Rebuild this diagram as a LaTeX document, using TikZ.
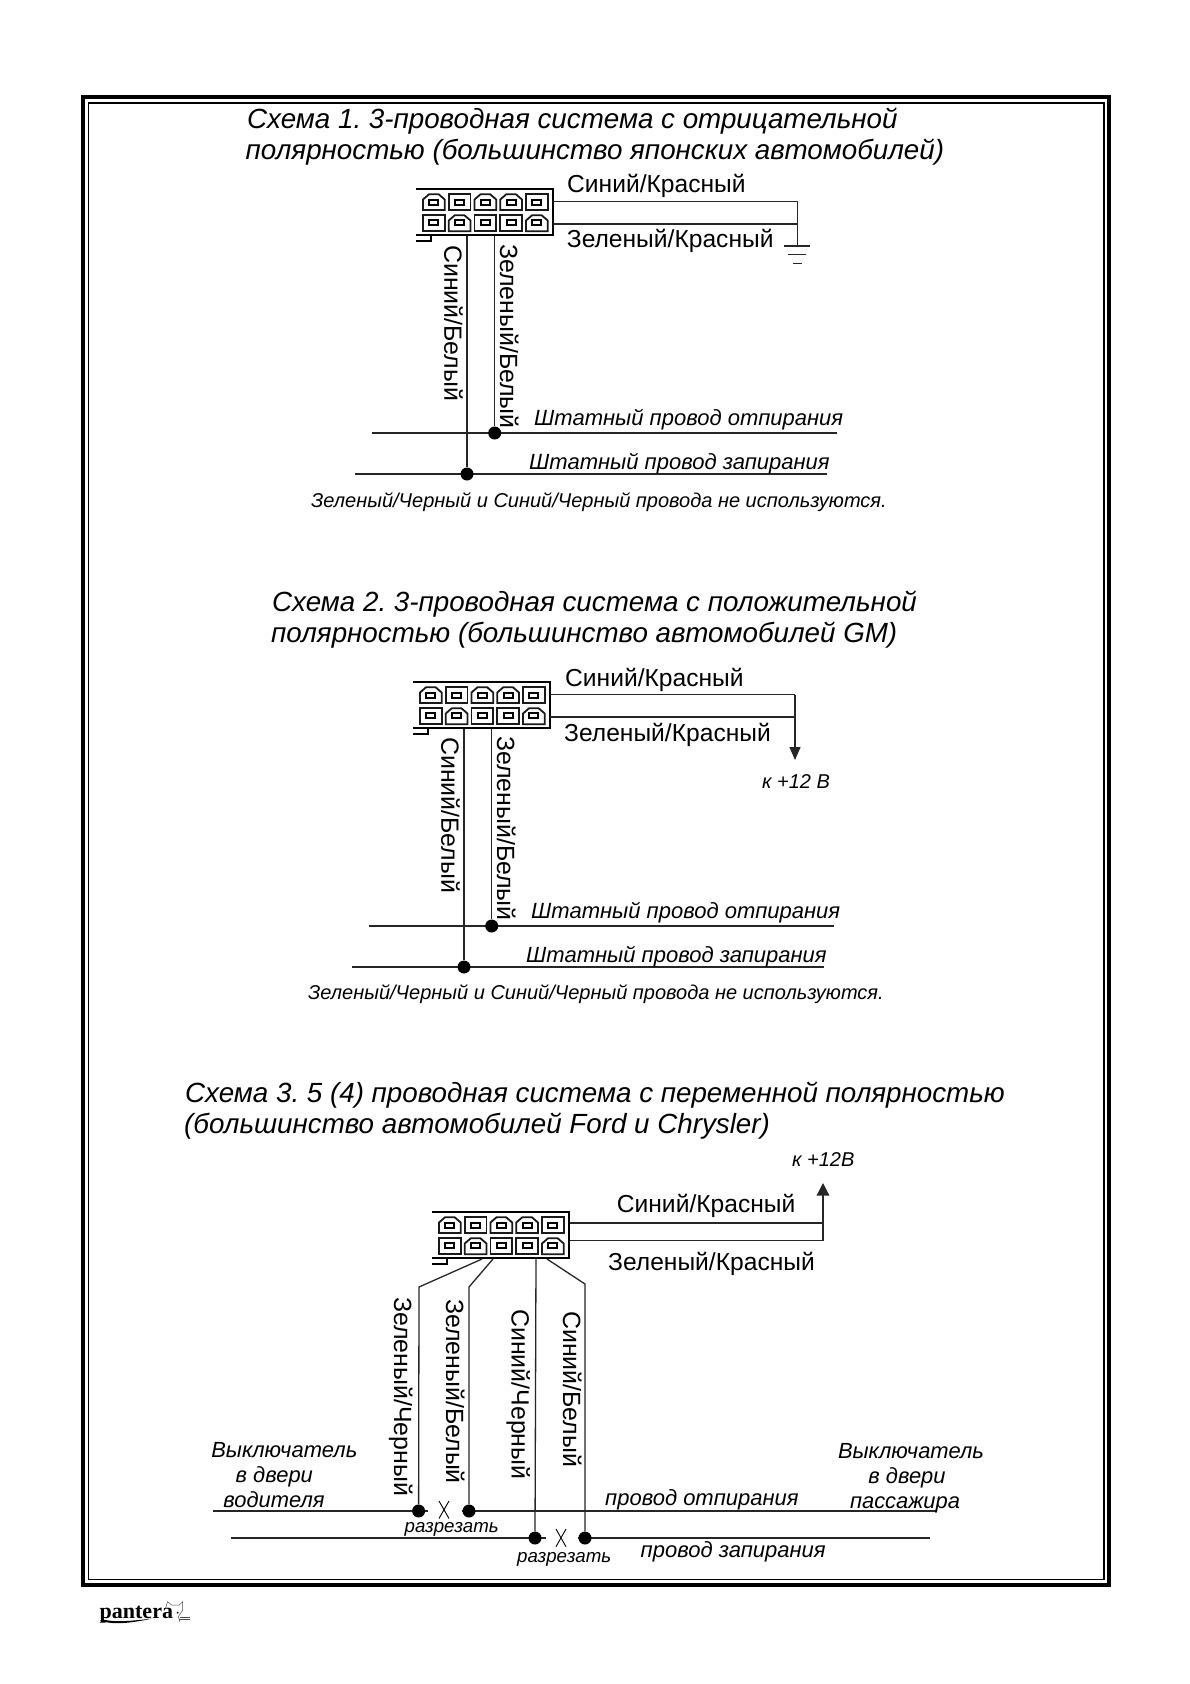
\documentclass[tikz,border=0pt]{standalone}
\usepackage{fontspec}
\setmainfont{Liberation Sans}
\newfontfamily\logofont{Liberation Serif}
\usetikzlibrary{arrows.meta}
\newcommand{\pxfont}[1]{\fontsize{#1}{#1}\selectfont}
\tikzset{
 x=1pt,y=-1pt,
 wire/.style={line width=1.3pt,draw=black!85},
 frameouter/.style={line width=4pt,draw=black},
 frameinner/.style={line width=1.5pt,draw=black},
 dot/.style={circle,fill=black,inner sep=0pt,minimum size=13pt},
 titletxt/.style={anchor=base west,inner sep=0pt,font=\pxfont{27.75}\itshape},
 labeltxt/.style={anchor=base west,inner sep=0pt,font=\pxfont{24.6}},
 vtxt/.style={anchor=base west,inner sep=0pt,rotate=-90,font=\pxfont{24.9}},
 wiretxt/.style={anchor=base west,inner sep=0pt,font=\pxfont{22}\itshape},
 notetxt/.style={anchor=base west,inner sep=0pt,font=\pxfont{20}\itshape},
 smalltxt/.style={anchor=base west,inner sep=0pt,font=\pxfont{20}\itshape},
 cuttxt/.style={anchor=base west,inner sep=0pt,font=\pxfont{18.7}\itshape},
 sidetxt/.style={anchor=base,inner sep=0pt,font=\pxfont{21.9}\itshape},
 cellbox/.style={line width=1.8pt,draw=black!90,fill=white},
 pinbox/.style={line width=1.9pt,draw=black,fill=white},
 shellline/.style={line width=1.9pt,draw=black},
 catline/.style={line width=0.5pt,draw=black!70},
}
% connector block: top-left of the shell at (#2,#3), node named #1
\newcommand{\plugblock}[3]{%
 \begin{scope}[shift={(#2,#3)}]
  \node[inner sep=0pt,minimum width=131pt,minimum height=46pt,anchor=north west] (#1) at (6,0) {};
  \draw[shellline] (0,0) -- (137,0) -- (137,46) -- (0,46);
  \draw[shellline,line width=1.3pt] (0,52) -- (15,52) -- (15,46);
  \foreach \i/\t/\b in {0/1/0,1/0/1,2/1/0,3/1/0,4/0/1}{
   \pgfmathsetmacro{\xa}{7+25.75*\i}
   \pgfmathsetmacro{\xb}{\xa+21.7}
   \pgfmathsetmacro{\xm}{\xa+10.85}
   \ifnum\t=1
    \draw[cellbox] (\xa,21) -- (\xa,10.5) -- (\xa+6,5.3) -- (\xb-6,5.3) -- (\xb,10.5) -- (\xb,21) -- cycle;
   \else
    \draw[cellbox] (\xa,5.3) rectangle (\xb,21);
   \fi
   \ifnum\b=1
    \draw[cellbox] (\xa,42.3) -- (\xa,31.5) -- (\xa+6,26.3) -- (\xb-6,26.3) -- (\xb,31.5) -- (\xb,42.3) -- cycle;
   \else
    \draw[cellbox] (\xa,26.3) rectangle (\xb,42.3);
   \fi
   \draw[pinbox] (\xm-4.5,11.2) rectangle (\xm+4.5,16.2);
   \draw[pinbox] (\xm-4.5,30.8) rectangle (\xm+4.5,35.8);
  }
 \end{scope}}
\begin{document}
\frenchspacing
\begin{tikzpicture}
\useasboundingbox (0,0) rectangle (1190,1684);
\fill[white] (0,0) rectangle (1190,1684);
% frame
\draw[frameouter] (82.7,97) rectangle (1109,1584.7);
\draw[frameinner] (88.3,103) rectangle (1104,1579.7);

% ---------- Scheme 1
\node[titletxt] (t1a) at (247,128) {Схема 1. 3-проводная система с отрицательной};
\node[titletxt] (t1b) at (245.5,159) {полярностью (большинство японских автомобилей)};
\plugblock{pa}{416}{189}
\coordinate (pa1) at (553,201.7);
\coordinate (pa2) at (553,224);
\coordinate (pa3) at (797.7,201.7);
\coordinate (pa4) at (797.7,224);
\coordinate (gnd) at (797.7,246);
\coordinate (gl1) at (784,246); \coordinate (gr1) at (810,246);
\coordinate (gl2) at (788,254.5); \coordinate (gr2) at (806,254.5);
\coordinate (gl3) at (793,263.5); \coordinate (gr3) at (802,263.5);
\draw[wire] (pa1) -- (pa3) -- (gnd);
\draw[wire] (pa2) -- (pa4);
\draw[wire] (gl1) -- (gr1);
\draw[wire] (gl2) -- (gr2);
\draw[wire] (gl3) -- (gr3);
\node[labeltxt] (la1) at (567,192.7) {Синий/Красный};
\node[labeltxt] (la2) at (566.7,247.7) {Зеленый/Красный};
\node[vtxt] (va1) at (444.3,245) {Синий/Белый};
\node[vtxt] (va2) at (500,244) {Зеленый/Белый};
\coordinate (al1) at (372,433); \coordinate (ar1) at (837,433);
\coordinate (al2) at (355,474); \coordinate (ar2) at (827,474);
\coordinate (aw1) at (467,236); \coordinate (aw2) at (494.7,236);
\draw[wire] (al1) -- (ar1);
\draw[wire] (al2) -- (ar2);
\node[dot] (ad1) at (494.7,433) {};
\node[dot] (ad2) at (467,474) {};
\draw[wire] (aw1) -- (ad2);
\draw[wire] (aw2) -- (ad1);
\node[wiretxt] (wa1) at (534,425) {Штатный провод отпирания};
\node[wiretxt] (wa2) at (529,469) {Штатный провод запирания};
\node[notetxt] (na) at (311,507) {Зеленый/Черный и Синий/Черный провода не используются.};

% ---------- Scheme 2
\node[titletxt] (t2a) at (272,611) {Схема 2. 3-проводная система с положительной};
\node[titletxt] (t2b) at (271,642) {полярностью (большинство автомобилей GM)};
\plugblock{pb}{413}{682}
\coordinate (pb1) at (550,694.7);
\coordinate (pb2) at (550,717);
\coordinate (pb3) at (795,694.7);
\coordinate (pb4) at (795,717);
\coordinate (btip) at (795,760);
\draw[wire] (pb1) -- (pb3);
\draw[wire] (pb2) -- (pb4);
\draw[wire,-{Stealth[length=13pt,width=11pt,inset=0pt]}] (pb3) -- (btip);
\node[labeltxt] (lb1) at (565,686) {Синий/Красный};
\node[labeltxt] (lb2) at (564,741) {Зеленый/Красный};
\node[vtxt] (vb1) at (441.3,737) {Синий/Белый};
\node[vtxt] (vb2) at (497,736) {Зеленый/Белый};
\node[smalltxt] (vcc1) at (762,788) {к +12 В};
\coordinate (bl1) at (369,926); \coordinate (br1) at (834,926);
\coordinate (bl2) at (352,967); \coordinate (br2) at (824,967);
\coordinate (bw1) at (464,729); \coordinate (bw2) at (491.7,729);
\draw[wire] (bl1) -- (br1);
\draw[wire] (bl2) -- (br2);
\node[dot] (bd1) at (491.7,926) {};
\node[dot] (bd2) at (464,967) {};
\draw[wire] (bw1) -- (bd2);
\draw[wire] (bw2) -- (bd1);
\node[wiretxt] (wb1) at (531,918) {Штатный провод отпирания};
\node[wiretxt] (wb2) at (526,962) {Штатный провод запирания};
\node[notetxt] (nb) at (308,999) {Зеленый/Черный и Синий/Черный провода не используются.};

% ---------- Scheme 3
\node[titletxt] (t3a) at (185,1102) {Схема 3. 5 (4) проводная система с переменной полярностью};
\node[titletxt] (t3b) at (184,1133.5) {(большинство автомобилей Ford и Chrysler)};
\plugblock{pc}{432}{1212}
\coordinate (pc1) at (570,1223);
\coordinate (pc2) at (570,1240.7);
\coordinate (pc3) at (823,1223);
\coordinate (pc4) at (823,1240.7);
\coordinate (ctip) at (823,1183);
\draw[wire] (pc1) -- (pc3);
\draw[wire,-{Stealth[length=12.5pt,width=12.5pt,inset=0pt]}] (pc2) -- (pc4) -- (ctip);
\node[smalltxt] (vcc2) at (792,1166) {к +12В};
\node[labeltxt] (lc1) at (616.7,1212.7) {Синий/Красный};
\node[labeltxt] (lc2) at (608,1270) {Зеленый/Красный};
\node[vtxt] (vc1) at (394,1297) {Зеленый/Черный};
\node[vtxt] (vc2) at (446,1299) {Зеленый/Белый};
\node[vtxt] (vc3) at (511.5,1309) {Синий/Черный};
\node[vtxt] (vc4) at (563,1311) {Синий/Белый};
\coordinate (cl1) at (212.5,1511); \coordinate (cm1) at (428,1511);
\coordinate (cm2) at (462,1511); \coordinate (cr1) at (937,1511);
\coordinate (cl2) at (231,1538); \coordinate (cm3) at (546,1538);
\coordinate (cm4) at (578,1538); \coordinate (cr2) at (930,1538);
\draw[wire] (cl1) -- (cm1);
\draw[wire] (cm2) -- (cr1);
\draw[wire] (cl2) -- (cm3);
\draw[wire] (cm4) -- (cr2);
\node[dot] (cd1) at (418.6,1511) {};
\node[dot] (cd2) at (469,1511) {};
\node[dot] (cd3) at (535,1538) {};
\node[dot] (cd4) at (585,1538) {};
\coordinate (cs1) at (482,1259); \coordinate (cb1) at (419,1287);
\coordinate (cs2) at (493,1259); \coordinate (cb2) at (469,1287);
\coordinate (cs3) at (536,1259);
\coordinate (cs4) at (547,1259); \coordinate (cb4) at (585,1284);
\draw[wire] (cs1) -- (cb1) -- (cd1);
\draw[wire] (cs2) -- (cb2) -- (cd2);
\draw[wire] (cs3) -- (cd3);
\draw[wire] (cs4) -- (cb4) -- (cd4);
% cut marks
\coordinate (xa1) at (439,1501); \coordinate (xa2) at (449,1518.5);
\coordinate (xa3) at (449,1501); \coordinate (xa4) at (439,1518.5);
\coordinate (xb1) at (556,1529); \coordinate (xb2) at (566,1546.7);
\coordinate (xb3) at (566,1529); \coordinate (xb4) at (556,1546.7);
\draw[line width=0.9pt] (xa1) -- (xa2);
\draw[line width=0.9pt] (xa3) -- (xa4);
\draw[line width=0.9pt] (xb1) -- (xb2);
\draw[line width=0.9pt] (xb3) -- (xb4);
\node[cuttxt] (cut1) at (404.5,1532) {разрезать};
\node[cuttxt] (cut2) at (517,1562.5) {разрезать};
\node[sidetxt] (sl1) at (284.3,1457) {Выключатель};
\node[sidetxt] (sl2) at (274.3,1482) {в двери};
\node[sidetxt] (sl3) at (274,1507) {водителя};
\node[sidetxt] (sr1) at (911,1458) {Выключатель};
\node[sidetxt] (sr2) at (907,1483) {в двери};
\node[sidetxt] (sr3) at (905,1508) {пассажира};
\node[wiretxt] (wc1) at (605,1505) {провод отпирания};
\node[wiretxt] (wc2) at (640.5,1557) {провод запирания};

% ---------- logo
\node[anchor=base west,inner sep=0pt,font=\pxfont{22}\logofont\bfseries] (logo) at (99.5,1618.5) {pantera};
\fill (100,1620.5) .. controls (112,1625) and (130,1623.5) .. (152,1618.5) .. controls (132,1621) and (115,1622.5) .. (103,1619.5) -- cycle;
\draw[catline] (165.5,1608.5) -- (167.5,1601.7) -- (171.7,1605) -- (179.3,1605) -- (182.7,1601.7) -- (182.7,1610) -- (178.3,1616.7) -- (180,1621.7);
\draw[catline] (180,1617.3) -- (190,1617.3);
\draw[catline] (179,1619) -- (190,1619);
\fill (177.7,1612.7) circle (1pt);
\end{tikzpicture}
\end{document}
